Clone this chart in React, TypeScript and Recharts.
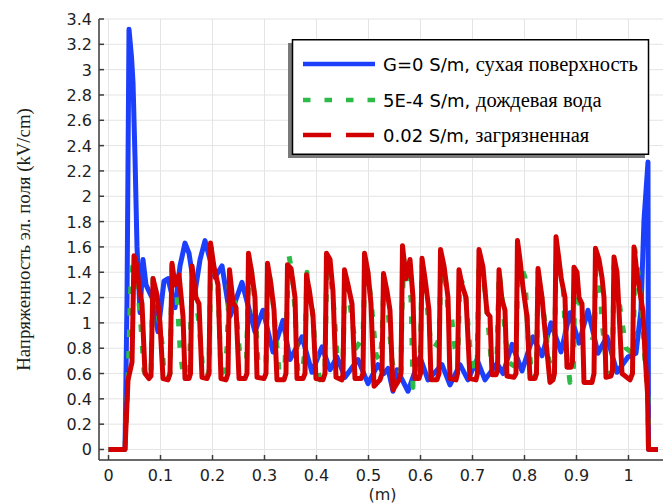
import React from 'react'
import { LineChart, Line, XAxis, YAxis, CartesianGrid, Legend } from 'recharts'

// Field strength along the insulator surface, kV/cm vs. position, m
const X_TICKS = [0, 0.1, 0.2, 0.3, 0.4, 0.5, 0.6, 0.7, 0.8, 0.9, 1]
const X_TICK_LABELS = ['0', '0.1', '0.2', '0.3', '0.4', '0.5', '0.6', '0.7', '0.8', '0.9', '1']
const Y_TICKS = [0, 0.2, 0.4, 0.6, 0.8, 1, 1.2, 1.4, 1.6, 1.8, 2, 2.2, 2.4, 2.6, 2.8, 3, 3.2, 3.4]
const Y_TICK_LABELS = ['0', '0.2', '0.4', '0.6', '0.8', '1', '1.2', '1.4', '1.6', '1.8', '2', '2.2', '2.4', '2.6', '2.8', '3', '3.2', '3.4']
const X_DOMAIN: [number, number] = [-0.0183, 1.0683]
const Y_DOMAIN: [number, number] = [-0.083, 3.4]

const Y_LABEL = 'Напряженность эл. поля (kV/cm)'
const X_LABEL = '(m)'

// G = 0 S/m, dry surface
const dryPts: [number, number][] = [
  [0, 0], [0.0317, 0], [0.0356, 1.2], [0.0394, 3.32], [0.0442, 3.1], [0.0471, 2.9],
  [0.051, 2.3], [0.0548, 1.6], [0.0606, 1.08], [0.0663, 1.5], [0.0721, 1.3], [0.0837, 1.2],
  [0.0952, 0.93], [0.1067, 1.33], [0.1144, 1.35], [0.1279, 1.12], [0.1375, 1.45], [0.1471, 1.63],
  [0.1548, 1.55], [0.1663, 1.24], [0.176, 1.5], [0.1856, 1.65], [0.1952, 1.5], [0.2048, 1.36],
  [0.2183, 1.45], [0.2337, 1.05], [0.2567, 1.32], [0.2817, 0.93], [0.2971, 1.1], [0.3163, 0.77],
  [0.3356, 1.02], [0.349, 0.71], [0.3721, 0.89], [0.3913, 0.61], [0.4106, 0.81], [0.426, 0.63],
  [0.4394, 0.73], [0.4548, 0.57], [0.4798, 0.71], [0.499, 0.52], [0.5183, 0.67], [0.5298, 0.6],
  [0.5375, 0.64], [0.5471, 0.46], [0.5548, 0.63], [0.576, 0.46], [0.599, 0.73], [0.6144, 0.55],
  [0.6413, 0.67], [0.6567, 0.51], [0.676, 0.67], [0.6913, 0.55], [0.7087, 0.71], [0.724, 0.55],
  [0.7471, 0.68], [0.7587, 0.6], [0.776, 0.83], [0.7952, 0.62], [0.8163, 0.89], [0.8337, 0.74],
  [0.851, 1.0], [0.8702, 0.77], [0.8875, 1.08], [0.9048, 0.84], [0.9221, 1.1], [0.9413, 0.76],
  [0.9587, 0.89], [0.9779, 0.61], [0.999, 0.73], [1.0144, 0.76], [1.024, 1.1], [1.0298, 1.81],
  [1.0375, 2.27], [1.0385, 0], [1.0567, 0],
]

// 5E-4 S/m, rain water
const rainPts: [number, number][] = [
  [0, 0], [0.0317, 0], [0.0375, 0.55], [0.0433, 1.36], [0.05, 1.53], [0.0548, 1.3], [0.0606, 1.08],
  [0.0683, 0.62], [0.0779, 0.56], [0.0817, 0.6], [0.0856, 1.35], [0.0913, 1.2], [0.1029, 0.84],
  [0.1067, 0.6], [0.1144, 0.56], [0.1183, 0.6], [0.1202, 1.0], [0.1221, 1.47], [0.1298, 1.35],
  [0.1375, 0.8], [0.1433, 0.6], [0.1529, 0.58], [0.1558, 0.6], [0.1577, 0.94], [0.1615, 1.35],
  [0.1663, 1.24], [0.174, 1.0], [0.1817, 0.61], [0.1894, 0.58], [0.1933, 0.62], [0.1971, 1.6],
  [0.2029, 1.4], [0.2106, 1.28], [0.2163, 0.6], [0.224, 0.62], [0.2279, 0.81], [0.2317, 1.3],
  [0.2394, 1.26], [0.2452, 1.1], [0.2529, 0.73], [0.2606, 0.7], [0.2654, 0.72], [0.2702, 1.5],
  [0.2779, 1.35], [0.2837, 1.0], [0.2875, 0.68], [0.299, 0.66], [0.3029, 0.68], [0.3067, 1.45],
  [0.3144, 1.25], [0.3221, 0.9], [0.3279, 0.62], [0.3356, 0.62], [0.3394, 0.68], [0.3471, 1.53],
  [0.3529, 1.4], [0.3587, 1.1], [0.3644, 0.6], [0.374, 0.65], [0.3779, 0.8], [0.3817, 1.4],
  [0.3875, 1.2], [0.3913, 1.16], [0.399, 0.7], [0.4067, 0.55], [0.4125, 0.6], [0.4163, 0.65],
  [0.4202, 1.5], [0.4279, 1.35], [0.4337, 1.1], [0.4394, 0.75], [0.4471, 0.7], [0.451, 0.72],
  [0.4548, 1.36], [0.4625, 1.2], [0.4702, 0.97], [0.476, 0.8], [0.4837, 0.85], [0.4894, 0.9],
  [0.4933, 1.45], [0.499, 1.39], [0.5067, 1.1], [0.5144, 0.75], [0.5221, 0.7], [0.526, 0.88],
  [0.5298, 1.35], [0.5375, 1.1], [0.5452, 0.7], [0.551, 0.59], [0.5587, 0.6], [0.5625, 0.62],
  [0.5644, 1.1], [0.5683, 1.5], [0.574, 1.32], [0.5817, 1.2], [0.5856, 0.49], [0.5952, 0.55],
  [0.599, 0.6], [0.6029, 1.45], [0.6087, 1.3], [0.6183, 0.9], [0.626, 0.8], [0.6337, 0.85],
  [0.6365, 0.97], [0.6394, 1.5], [0.6471, 1.39], [0.6529, 1.1], [0.6587, 1.08], [0.6663, 0.8],
  [0.672, 0.76], [0.676, 1.35], [0.6856, 1.28], [0.6952, 0.79], [0.7029, 0.62], [0.7087, 0.62],
  [0.7125, 1.5], [0.7202, 1.39], [0.7279, 1.1], [0.7356, 0.72], [0.7433, 0.7], [0.7471, 0.72],
  [0.751, 1.4], [0.7567, 1.22], [0.7644, 0.85], [0.7721, 0.68], [0.7798, 0.66], [0.7837, 0.68],
  [0.7875, 1.51], [0.7933, 1.45], [0.801, 1.36], [0.8067, 0.9], [0.8144, 0.56], [0.8202, 0.58],
  [0.8231, 0.6], [0.826, 1.4], [0.8317, 1.25], [0.8394, 1.0], [0.8471, 0.7], [0.8548, 0.65],
  [0.8577, 0.67], [0.8606, 1.5], [0.8663, 1.45], [0.874, 1.31], [0.8798, 0.8], [0.8875, 0.53],
  [0.8913, 0.6], [0.8942, 0.65], [0.8971, 1.34], [0.9048, 1.2], [0.9125, 0.94], [0.9221, 0.9],
  [0.9317, 0.88], [0.9346, 0.9], [0.9375, 1.5], [0.9423, 1.44], [0.949, 1.02], [0.9567, 0.7],
  [0.9663, 0.6], [0.9692, 0.62], [0.9721, 1.45], [0.9779, 1.3], [0.9856, 1.06], [0.9952, 0.8],
  [1.0048, 0.77], [1.0096, 0.8], [1.0125, 1.58], [1.0183, 1.4], [1.026, 1.1], [1.0317, 0.7],
  [1.0375, 0.41], [1.0385, 0], [1.0567, 0],
]

// 0.02 S/m, polluted surface
const pollutedPts: [number, number][] = [
  [0, 0], [0.0317, 0], [0.0375, 0.55], [0.0452, 0.69], [0.049, 1.53], [0.0548, 1.45], [0.0587, 1.28],
  [0.0644, 1.15], [0.0702, 0.6], [0.0779, 0.56],
  [0.0817, 0.58], [0.0856, 1.35], [0.0933, 1.22], [0.099, 1.0], [0.1048, 0.56], [0.1144, 0.55],
  [0.1183, 0.6], [0.1221, 1.47], [0.1279, 1.3], [0.1356, 1.38], [0.1433, 1.05], [0.1471, 0.56], [0.1548, 0.56],
  [0.1577, 0.6], [0.1606, 1.45], [0.1683, 1.2], [0.174, 1.15], [0.1798, 0.57], [0.1894, 0.56],
  [0.1933, 0.6], [0.1962, 1.63], [0.2029, 1.44], [0.2106, 1.3], [0.2163, 0.56], [0.226, 0.55],
  [0.2298, 0.6], [0.2327, 1.42], [0.2394, 1.16], [0.2452, 1.12], [0.251, 0.56], [0.2625, 0.56],
  [0.2663, 0.6], [0.2692, 1.55], [0.276, 1.38], [0.2817, 1.2], [0.2856, 0.57], [0.299, 0.56],
  [0.3029, 0.6], [0.3058, 1.47], [0.3125, 1.3], [0.3183, 1.1], [0.324, 0.55], [0.3375, 0.55],
  [0.3413, 0.6], [0.3442, 1.46], [0.351, 1.43], [0.3587, 1.2], [0.3625, 0.56], [0.374, 0.56],
  [0.3779, 0.6], [0.3808, 1.38], [0.3875, 1.22], [0.3933, 1.05], [0.399, 0.56], [0.4125, 0.55],
  [0.4163, 0.6], [0.4192, 1.55], [0.426, 1.5], [0.4317, 1.25], [0.4375, 0.57], [0.449, 0.55],
  [0.451, 0.6], [0.4538, 1.42], [0.4606, 1.3], [0.4683, 1.15], [0.474, 0.56], [0.4856, 0.56],
  [0.4894, 0.6], [0.4923, 1.55], [0.499, 1.4], [0.5048, 1.15], [0.5106, 0.5], [0.5221, 0.55],
  [0.526, 0.6], [0.5288, 1.39], [0.5356, 1.25], [0.5413, 1.1], [0.5471, 0.47], [0.5587, 0.55],
  [0.5625, 0.6], [0.5654, 1.61], [0.5721, 1.35], [0.5798, 1.5], [0.5856, 1.2], [0.5894, 0.56], [0.5971, 0.56],
  [0.6, 0.6], [0.6029, 1.51], [0.6087, 1.35], [0.6163, 1.1], [0.6202, 0.55], [0.6317, 0.55],
  [0.6356, 0.6], [0.6385, 1.58], [0.6452, 1.45], [0.6529, 1.2], [0.6567, 0.56], [0.6683, 0.55],
  [0.6712, 0.6], [0.674, 1.42], [0.6798, 1.3], [0.6875, 1.2], [0.6952, 0.56], [0.7067, 0.55],
  [0.7096, 0.6], [0.7125, 1.58], [0.7202, 1.44], [0.7279, 1.08], [0.7337, 1.05], [0.7375, 0.59], [0.7452, 0.59],
  [0.7481, 0.62], [0.751, 1.42], [0.7567, 1.18], [0.7625, 1.1], [0.7663, 0.58], [0.7798, 0.57],
  [0.7837, 0.6], [0.7865, 1.65], [0.7913, 1.5], [0.7971, 1.28], [0.8048, 1.05], [0.8106, 0.56], [0.8202, 0.56],
  [0.8231, 0.6], [0.826, 1.43], [0.8337, 1.2], [0.8394, 0.94], [0.849, 0.53], [0.8548, 0.55],
  [0.8577, 0.6], [0.8606, 1.68], [0.8663, 1.5], [0.8702, 1.36], [0.8779, 1.2], [0.8817, 0.65], [0.8894, 0.65],
  [0.8923, 0.7], [0.8952, 1.44], [0.901, 1.4], [0.9048, 1.2], [0.9106, 1.15], [0.9144, 0.53], [0.9298, 0.53],
  [0.9337, 0.6], [0.9365, 1.59], [0.9433, 1.5], [0.949, 1.36], [0.9529, 1.2], [0.9567, 0.57], [0.9663, 0.58],
  [0.9692, 0.62], [0.9721, 1.52], [0.9779, 1.4], [0.9817, 1.1], [0.9875, 0.6], [1.0029, 0.55],
  [1.0077, 0.6], [1.0106, 1.6], [1.0163, 1.39], [1.0221, 1.24], [1.0279, 1.09], [1.0317, 0.76],
  [1.0365, 0.45], [1.0385, 0], [1.0567, 0],
]

const FRAME = '#3c3c3c'
const GRID = '#e4e4e4'
const TEXT = '#1e1e1e'
const SANS = '"DejaVu Sans", sans-serif'
const SERIF = '"Liberation Serif", serif'

const SERIES = [
  { id: 'dry', pts: dryPts, color: '#1c3ffb', dash: undefined as string | undefined, latin: 'G=0 S/m, ', cyr: 'сухая поверхность' },
  { id: 'rain', pts: rainPts, color: '#2dbb48', dash: '7.5 14', latin: '5E-4 S/m, ', cyr: 'дождевая вода' },
  { id: 'polluted', pts: pollutedPts, color: '#d20000', dash: '28 15', latin: '0.02 S/m, ', cyr: 'загрязненная' },
]

const tickText = (ticks: number[], labels: string[], v: number) => {
  const i = ticks.findIndex((t) => Math.abs(t - v) < 1e-6)
  return i >= 0 ? labels[i] : ''
}

function BottomTick({ x, y, payload }: any) {
  return (
    <g>
      <line x1={x} y1={y} x2={x} y2={y - 5} stroke={FRAME} strokeWidth={1.5} />
      <text x={x} y={y + 21} textAnchor="middle" fontSize={16} fontFamily={SANS} fill={TEXT}>
        {tickText(X_TICKS, X_TICK_LABELS, payload.value)}
      </text>
    </g>
  )
}

function TopTick({ x, y }: any) {
  return <line x1={x} y1={y} x2={x} y2={y + 5} stroke={FRAME} strokeWidth={1.5} />
}

function LeftTick({ x, y, payload }: any) {
  return (
    <g>
      <line x1={x} y1={y} x2={x + 5} y2={y} stroke={FRAME} strokeWidth={1.5} />
      <text x={x - 7} y={y + 6} textAnchor="end" fontSize={16} fontFamily={SANS} fill={TEXT}>
        {tickText(Y_TICKS, Y_TICK_LABELS, payload.value)}
      </text>
    </g>
  )
}

function RightTick({ x, y }: any) {
  return <line x1={x} y1={y} x2={x - 5} y2={y} stroke={FRAME} strokeWidth={1.5} />
}

function YTitle({ viewBox }: any) {
  const cx = viewBox.x + 30
  const cy = viewBox.y + viewBox.height / 2
  return (
    <text x={cx} y={cy} transform={`rotate(-90 ${cx} ${cy})`} textAnchor="middle"
      fontSize={18.8} fontFamily={SERIF} fill={TEXT}>
      {Y_LABEL}
    </text>
  )
}

function XTitle({ viewBox }: any) {
  const cx = viewBox.x + viewBox.width / 2 + 1
  return (
    <text x={cx} y={viewBox.y + 40} textAnchor="middle" fontSize={16} fontFamily={SANS} fill={TEXT}>
      {X_LABEL}
    </text>
  )
}

// boxed legend with a grey drop shadow to the lower left
function LegendBox() {
  const rows = [25, 61, 96]
  return (
    <svg width={362} height={120} style={{ display: 'block' }}>
      <rect x={0} y={4} width={357} height={115} fill="#7a7a7a" />
      <rect x={4.5} y={0.75} width={356} height={114.5} fill="#fff" stroke="#000" strokeWidth={1.5} />
      {SERIES.map((s, i) => (
        <g key={s.id}>
          <line x1={15} y1={rows[i]} x2={87} y2={rows[i]} stroke={s.color} strokeWidth={4.5}
            strokeDasharray={s.dash} />
          <text x={95} y={rows[i] + 6.5} fill="#000">
            <tspan fontFamily={SANS} fontSize={18}>{s.latin}</tspan>
            <tspan fontFamily={SERIF} fontSize={20.5}>{s.cyr}</tspan>
          </text>
        </g>
      ))}
    </svg>
  )
}

export default function App() {
  return (
    <div style={{ position: 'absolute', left: 0, top: 0, width: 663, height: 503, overflow: 'hidden', background: '#fff' }}>
      <LineChart width={680} height={503} margin={{ top: 19, right: 16, bottom: 0, left: 0 }}>
        <CartesianGrid stroke={GRID} strokeWidth={1} />
        <XAxis
          dataKey="x" type="number" domain={X_DOMAIN} ticks={X_TICKS} allowDataOverflow
          height={43} tickSize={0} tickMargin={0} tickLine={false}
          axisLine={{ stroke: FRAME, strokeWidth: 1.5 }} tick={<BottomTick />}
          label={<XTitle />}
        />
        <XAxis
          xAxisId="top" orientation="top" dataKey="x" type="number" domain={X_DOMAIN} ticks={X_TICKS}
          allowDataOverflow height={0} tickSize={0} tickMargin={0} tickLine={false}
          axisLine={{ stroke: FRAME, strokeWidth: 1.5 }} tick={<TopTick />}
        />
        <YAxis
          type="number" domain={Y_DOMAIN} ticks={Y_TICKS} allowDataOverflow width={99}
          tickSize={0} tickMargin={0} tickLine={false}
          axisLine={{ stroke: FRAME, strokeWidth: 1.5 }} tick={<LeftTick />}
          label={<YTitle />}
        />
        <YAxis
          yAxisId="right" orientation="right" type="number" domain={Y_DOMAIN} ticks={Y_TICKS}
          allowDataOverflow width={0} tickSize={0} tickMargin={0} tickLine={false}
          axisLine={{ stroke: FRAME, strokeWidth: 1.5 }} tick={<RightTick />}
        />
        {SERIES.map((s) => (
          <Line
            key={s.id}
            data={s.pts.map(([x, y]) => ({ x, y }))}
            dataKey="y"
            type="linear"
            stroke={s.color}
            strokeWidth={5}
            strokeDasharray={s.id === 'rain' ? s.dash : undefined}
            strokeLinejoin="round"
            dot={false}
            activeDot={false}
            isAnimationActive={false}
          />
        ))}
        <Legend
          layout="vertical" align="center" verticalAlign="middle"
          content={<LegendBox />}
          wrapperStyle={{ left: 288, top: 39, width: 362, height: 120 }}
        />
      </LineChart>
    </div>
  )
}
